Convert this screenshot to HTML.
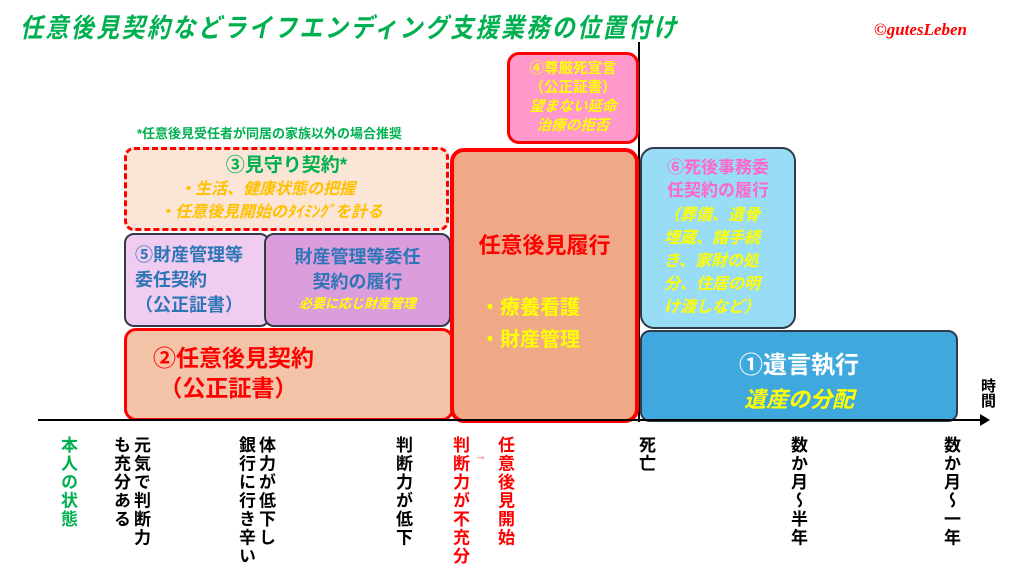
<!DOCTYPE html>
<html><head><meta charset="utf-8">
<style>
*{margin:0;padding:0;box-sizing:border-box}
body{width:1024px;height:575px;background:#fff;position:relative;overflow:hidden;font-family:"Liberation Sans","Noto Sans CJK JP",sans-serif;font-weight:bold}
.a{position:absolute}
.box{position:absolute;border-radius:12px}
.c{text-align:center}
.y{color:#ffff00;font-style:italic}
.v{position:absolute;writing-mode:vertical-rl;font-size:17px;letter-spacing:1.5px;line-height:20px;color:#000;top:436px}
</style></head><body>
<div class="a" style="left:20px;top:6px;font-size:23px;letter-spacing:2.4px;color:#00b050;font-style:italic;transform:scaleY(1.15);transform-origin:top left">任意後見契約などライフエンディング支援業務の位置付け</div>
<div class="a" style="left:874px;top:20px;font-family:'Liberation Serif',serif;font-style:italic;font-size:17px;color:#ff0000">©gutesLeben</div>

<div class="a" style="left:638px;top:42px;width:2px;height:380px;background:#000"></div>

<div class="a" style="left:137px;top:123px;font-size:13px;color:#00b050">*任意後見受任者が同居の家族以外の場合推奨</div>

<div class="box" style="left:507px;top:52px;width:132px;height:92px;background:#ff99cc;border:3px solid #ff0000;line-height:19px;font-size:14.5px">
<div class="c" style="color:#ffff00;margin-top:5px">④尊厳死宣言</div>
<div class="c" style="color:#ffff00">（公正証書）</div>
<div class="c y">望まない延命</div>
<div class="c y">治療の拒否</div></div>

<div class="box" style="left:124px;top:147px;width:325px;height:84px;background:#fbe5d6;border:3px dashed #ff0000;border-radius:10px">
<div class="c" style="color:#00b050;font-size:19px;margin-top:4px;line-height:24px">③見守り契約*</div>
<div class="y" style="color:#ffc000;font-size:16px;margin:0 0 0 52px;line-height:23px">・生活、健康状態の把握</div>
<div class="y" style="color:#ffc000;font-size:16px;margin:0 0 0 32px;line-height:23px">・任意後見開始のﾀｲﾐﾝｸﾞを計る</div></div>

<div class="box" style="left:124px;top:233px;width:146px;height:94px;background:#f0cdf0;border:2px solid #2f3a4a;border-radius:10px;color:#2e75b6;font-size:18px;line-height:25px;padding:8px 0 0 9px">⑤財産管理等<br>委任契約<br>（公正証書）</div>
<div class="box" style="left:264px;top:233px;width:187px;height:94px;background:#dc9ddc;border:2px solid #2f3a4a;border-radius:10px;color:#2e75b6;font-size:18px;line-height:25px">
<div class="c" style="margin-top:10px">財産管理等委任</div>
<div class="c">契約の履行</div>
<div class="c y" style="font-size:13px;line-height:18px">必要に応じ財産管理</div></div>

<div class="box" style="left:124px;top:328px;width:330px;height:93px;background:#f4c4a8;border:3px solid #ff0000;color:#ff0000;font-size:23px;line-height:30px;padding:12px 0 0 26px">②任意後見契約<br>&nbsp;（公正証書）</div>

<div class="box" style="left:450px;top:148px;width:189px;height:275px;background:#f0a987;border:4px solid #ff0000;border-radius:14px">
<div class="c" style="color:#ff0000;font-size:22px;margin-top:76px">任意後見履行</div>
<div style="color:#ffff00;font-size:20px;margin:32px 0 0 26px;line-height:32px">・療養看護<br>・財産管理</div></div>

<div class="box" style="left:640px;top:147px;width:156px;height:182px;background:#99dcf6;border:2px solid #2f3a4a;border-radius:14px;line-height:23px">
<div class="c" style="color:#ff66cc;font-size:17px;margin-top:7px">⑥死後事務委<br>任契約の履行</div>
<div class="y" style="font-size:16px;margin:2px 0 0 22px;line-height:23px">（葬儀、遺骨<br>埋蔵、諸手続<br>き、家財の処<br>分、住居の明<br>け渡しなど）</div></div>

<div class="box" style="left:640px;top:330px;width:318px;height:92px;background:#3fa9de;border:2px solid #2f3a4a;border-radius:10px">
<div class="c" style="color:#fff;font-size:24px;margin-top:13px">①遺言執行</div>
<div class="c y" style="font-size:22px;margin-top:2px">遺産の分配</div></div>

<div class="a" style="left:38px;top:419px;width:945px;height:2px;background:#000"></div>
<div class="a" style="left:980px;top:414px;width:0;height:0;border-left:10px solid #000;border-top:6px solid transparent;border-bottom:6px solid transparent"></div>
<div class="v" style="left:980px;top:378px;font-size:15px;line-height:15px;letter-spacing:0">時間</div>

<div class="v" style="left:57px;color:#00b050">本人の状態</div>
<div class="v" style="left:110px">元気で判断力<br>も充分ある</div>
<div class="v" style="left:235px">体力が低下し<br>銀行に行き辛い</div>
<div class="v" style="left:392px">判断力が低下</div>
<div class="v" style="left:449px;color:#ff0000">判断力が不充分</div>
<div class="a" style="left:474px;top:448px;color:#ff6666;font-size:13px">→</div>
<div class="v" style="left:494px;color:#ff0000">任意後見開始</div>
<div class="v" style="left:635px">死亡</div>
<div class="v" style="left:787px">数か月～半年</div>
<div class="v" style="left:940px">数か月～一年</div>
</body></html>
